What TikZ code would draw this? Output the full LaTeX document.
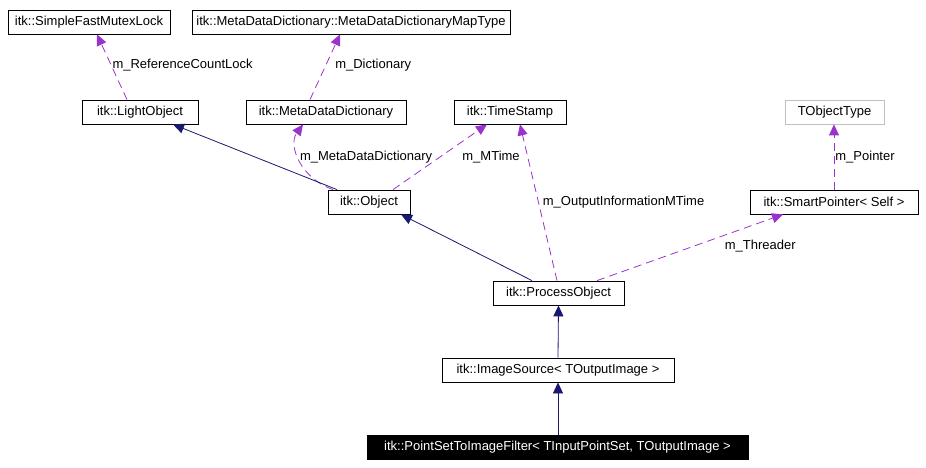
\documentclass[tikz,border=0pt]{standalone}
\usepackage{fontspec}
\setmainfont{Liberation Sans}
\usetikzlibrary{arrows.meta}
\definecolor{memberpurple}{HTML}{9A32CD}
\definecolor{basenavy}{HTML}{191970}
\definecolor{tmplgray}{HTML}{BFBFBF}

\begin{document}
\begin{tikzpicture}[
      x=1pt, y=-1pt,
      font=\fontsize{13}{15}\selectfont,
      cls/.style={rectangle, draw=black, line width=0.8pt, fill=white, inner sep=0pt, minimum height=24pt},
      tmpl/.style={cls, draw=tmplgray},
      cur/.style={cls, fill=black, text=white},
      inh/.style={-{Triangle[length=11pt, width=10pt]}, line width=0.8pt, basenavy},
      mem/.style={-{Triangle[length=11pt, width=10pt]}, line width=0.8pt, memberpurple, dash pattern=on 8pt off 5pt},
      lbl/.style={text=black, inner sep=1pt},
    ]
    \useasboundingbox (0,0) rectangle (926,468);

    \node[cls, minimum width=162pt] (mutex) at (89,22) {itk::SimpleFastMutexLock};
    \node[cls, minimum width=318pt] (maptype) at (351,22) {itk::MetaDataDictionary::MetaDataDictionaryMapType};
    \node[cls, minimum width=116pt] (light) at (140,112) {itk::LightObject};
    \node[cls, minimum width=160pt] (mdd) at (326,112) {itk::MetaDataDictionary};
    \node[cls, minimum width=112pt] (stamp) at (510,112) {itk::TimeStamp};
    \node[tmpl, minimum width=99pt] (tobj) at (834.5,112) {TObjectType};
    \node[cls, minimum width=82pt] (object) at (369,202) {itk::Object};
    \node[cls, minimum width=168pt] (smart) at (834,202) {itk::SmartPointer< Self >};
    \node[cls, minimum width=131pt] (process) at (558.5,293) {itk::ProcessObject};
    \node[cls, minimum width=232pt] (imgsrc) at (558,370) {itk::ImageSource< TOutputImage >};
    \node[cur, minimum width=381pt] (filter) at (557.5,447) {itk::PointSetToImageFilter< TInputPointSet, TOutputImage >};

    \draw[mem] ([xshift=-13]light.north) -- node[lbl, pos=0.53, anchor=west] {m\_ReferenceCountLock} ([xshift=8]mutex.south);
    \draw[mem] ([xshift=-16]mdd.north) -- node[lbl, pos=0.53, anchor=west, xshift=8] {m\_Dictionary} ([xshift=-11]maptype.south);
    \draw[mem] ([xshift=-36]object.north) .. controls (300,178) and (288,145) .. node[lbl, pos=0.55, anchor=west] {m\_MetaDataDictionary} ([xshift=-23]mdd.south);
    \draw[mem] ([xshift=24]object.north) -- node[lbl, pos=0.5, anchor=west, xshift=21] {m\_MTime} ([xshift=-23]stamp.south);
    \draw[mem] ([xshift=-1.5]process.north) -- node[lbl, pos=0.5, anchor=west, xshift=3] {m\_OutputInformationMTime} ([xshift=10]stamp.south);
    \draw[mem] ([xshift=38.5]process.north) -- node[lbl, pos=0.68, anchor=north west, yshift=-3] {m\_Threader} ([xshift=-51]smart.south);
    \draw[mem] (smart.north) -- node[lbl, pos=0.5, anchor=west] {m\_Pointer} ([xshift=-0.5]tobj.south);

    \draw[inh] ([xshift=-32]object.north) -- ([xshift=33]light.south);
    \draw[inh] ([xshift=-26.5]process.north) -- ([xshift=32]object.south);
    \draw[inh] (imgsrc.north) -- (process.south);
    \draw[inh] ([xshift=0.5]filter.north) -- (imgsrc.south);
  \end{tikzpicture}
\end{document}
